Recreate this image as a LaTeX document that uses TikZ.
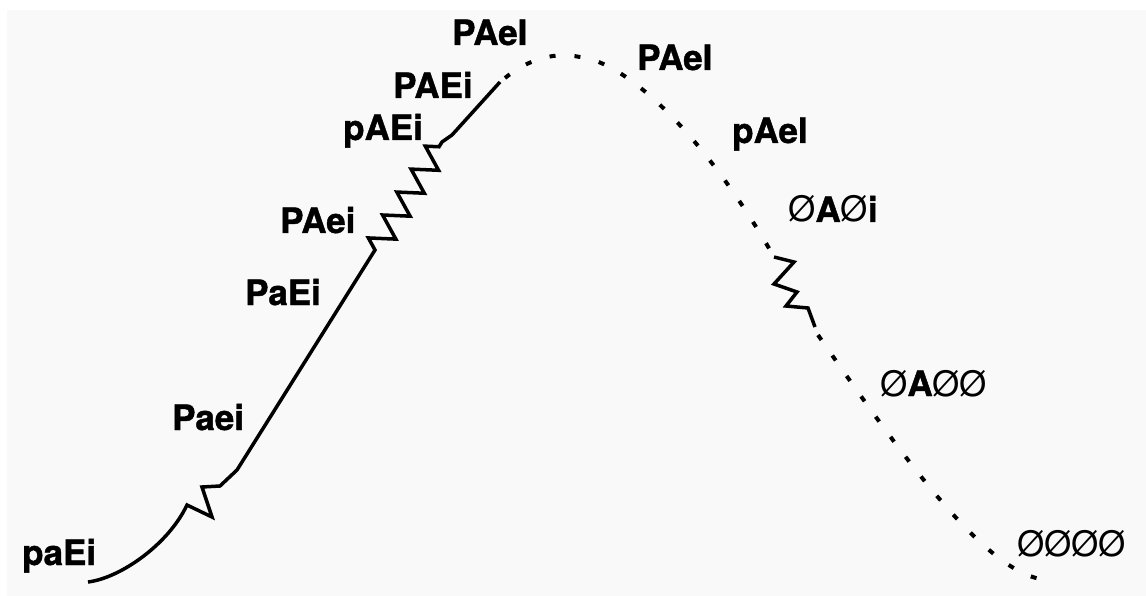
\documentclass[tikz,border=0pt]{standalone}
\usepackage{fontspec}
\setmainfont{TeX Gyre Heros}[BoldFeatures={FakeBold=1.2}]
\usetikzlibrary{decorations.pathmorphing}

% a lost segment, set light inside the bold labels
\newcommand\lostseg{{\mdseries Ø}}

\begin{document}
\begin{tikzpicture}[x=1pt,y=-1pt,
                    lbl/.style={anchor=base west,inner sep=0pt,
                                font=\fontsize{35}{35}\selectfont\bfseries},
                    solidpart/.style={line width=3.5pt,line join=miter},
                    dotpart/.style={line width=4pt,dash pattern=on 6pt off 19pt},
                    kink/.style={decorate,decoration={zigzag,amplitude=12pt,
                                 segment length=27pt}}]
    \fill[white]   (0,0) rectangle (1146,596);
    \fill[gray!5]  (7,10) rectangle (1146,596);
    \useasboundingbox (0,0) rectangle (1146,596);

    % rising branch
    \draw[solidpart] (88,582) .. controls (120,578) and (168,545) .. (187,505)
        -- (212,517) -- (202,487) -- (220,486) -- (237,470) -- (375,250)
        decorate[kink] {-- (442,142)} -- (452,135) -- (500,82);

    % falling branch
    \draw[dotpart] (505,78) .. controls (530,58) and (555,52) .. (580,57)
        .. controls (625,62) and (700,130) .. (770,250);
    \draw[solidpart] (774,257) -- (794,262) -- (774,284) -- (797,292)
        -- (786,306) -- (808,308) -- (815,327);
    \draw[dotpart] (818,335) .. controls (905,460) and (990,580) .. (1050,580);

    % stages
    \node[lbl] (paEi)  at (22,565)  {paEi};
    \node[lbl] (Paei)  at (172,430) {Paei};
    \node[lbl] (PaEi)  at (245,305) {PaEi};
    \node[lbl] (PAei)  at (280,233) {PAei};
    \node[lbl] (pAEi)  at (343,140) {pAEi};
    \node[lbl] (PAEi)  at (393,98)  {PAEi};
    \node[lbl] (PAeIa) at (452,45)  {PAeI};
    \node[lbl] (PAeIb) at (637,70)  {PAeI};
    \node[lbl] (pAeI)  at (732,143) {pAeI};
    \node[lbl] (xAxi)  at (788,222) {\lostseg A\lostseg i};
    \node[lbl] (xAxx)  at (880,396) {\lostseg A\lostseg\lostseg};
    \node[lbl] (xxxx)  at (1017,556) {\lostseg\lostseg\lostseg\lostseg};
\end{tikzpicture}
\end{document}
